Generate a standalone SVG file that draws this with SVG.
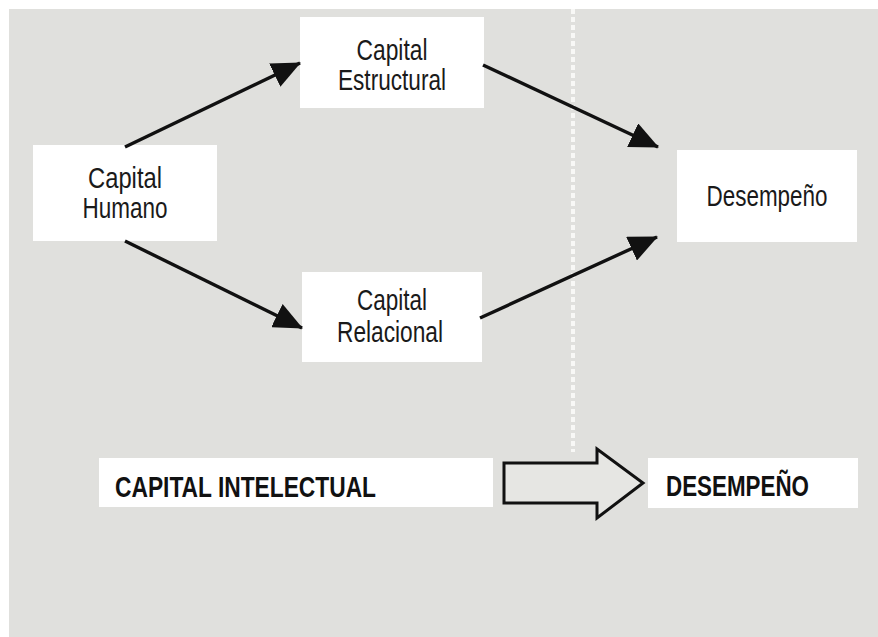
<svg xmlns="http://www.w3.org/2000/svg" width="878" height="637" viewBox="0 0 878 637">
  <style>
    .box { fill: #ffffff; }
    .lbl { font-family: "Liberation Sans", Arial, sans-serif; font-size: 29px; fill: #1a1a1a; text-anchor: middle; }
    .cap { font-family: "Liberation Sans", Arial, sans-serif; font-size: 29px; font-weight: bold; fill: #111111; }
    .link { stroke: #111111; stroke-width: 3.4; fill: none; marker-end: url(#head); }
  </style>
  <defs>
    <marker id="head" markerUnits="userSpaceOnUse" markerWidth="30" markerHeight="26" refX="28" refY="13" orient="auto">
      <path d="M0,0 L29,13 L0,26 Z" fill="#111111"/>
    </marker>
  </defs>

  <!-- page and grey panel -->
  <rect x="0" y="0" width="878" height="637" fill="#ffffff"/>
  <rect x="9" y="9" width="869" height="628" fill="#e0e0dd"/>

  <!-- dotted divider -->
  <line x1="573" y1="9" x2="573" y2="452" stroke="#f8f8f6" stroke-width="4" stroke-dasharray="5 3"/>

  <g id="capital-humano">
    <rect class="box" x="33" y="145" width="184" height="96"/>
    <text class="lbl" x="125" y="188" textLength="74" lengthAdjust="spacingAndGlyphs">Capital</text>
    <text class="lbl" x="125" y="218" textLength="85" lengthAdjust="spacingAndGlyphs">Humano</text>
  </g>

  <g id="capital-estructural">
    <rect class="box" x="300" y="17" width="184" height="91"/>
    <text class="lbl" x="392" y="60" textLength="71" lengthAdjust="spacingAndGlyphs">Capital</text>
    <text class="lbl" x="392" y="90" textLength="108" lengthAdjust="spacingAndGlyphs">Estructural</text>
  </g>

  <g id="capital-relacional">
    <rect class="box" x="302" y="272" width="180" height="90"/>
    <text class="lbl" x="392" y="310" textLength="70" lengthAdjust="spacingAndGlyphs">Capital</text>
    <text class="lbl" x="390" y="342" textLength="106" lengthAdjust="spacingAndGlyphs">Relacional</text>
  </g>

  <g id="desempeno">
    <rect class="box" x="677" y="150" width="180" height="92"/>
    <text class="lbl" x="767" y="206" textLength="121" lengthAdjust="spacingAndGlyphs">Desempeño</text>
  </g>

  <g id="connectors">
    <line class="link" x1="125" y1="147" x2="300" y2="63"/>
    <line class="link" x1="125" y1="241" x2="302" y2="328"/>
    <line class="link" x1="483" y1="65" x2="658" y2="147"/>
    <line class="link" x1="480" y1="318" x2="657" y2="237"/>
  </g>

  <g id="capital-intelectual">
    <rect class="box" x="99" y="458" width="394" height="49"/>
    <text class="cap" x="115" y="497" textLength="261" lengthAdjust="spacingAndGlyphs">CAPITAL INTELECTUAL</text>
  </g>

  <g id="block-arrow">
    <polygon points="504,463 597,463 597,449 643,483 597,518 597,503 504,503" fill="#e6e6e3" stroke="#111111" stroke-width="3" stroke-linejoin="miter"/>
  </g>

  <g id="desempeno-result">
    <rect class="box" x="648" y="458" width="210" height="50"/>
    <text class="cap" x="666" y="496" textLength="143" lengthAdjust="spacingAndGlyphs">DESEMPEÑO</text>
  </g>
</svg>
